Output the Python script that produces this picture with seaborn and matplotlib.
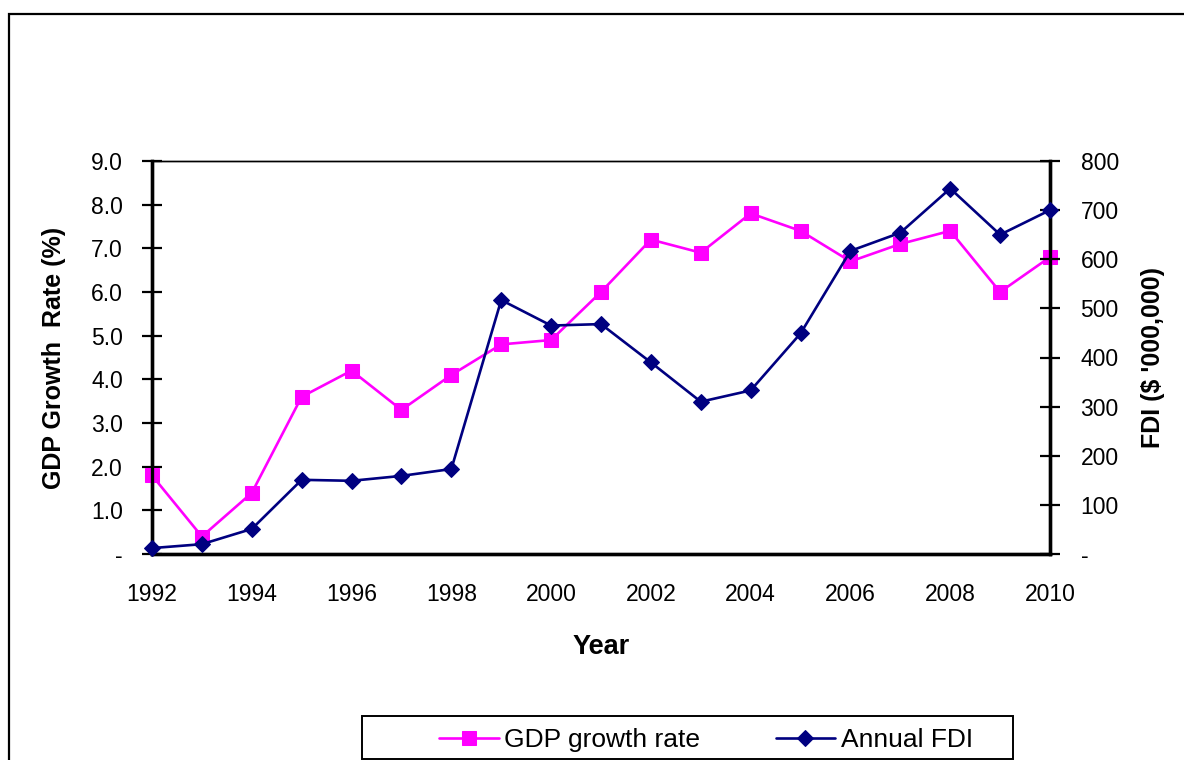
import matplotlib
matplotlib.use("Agg")
import matplotlib.pyplot as plt
from matplotlib.patches import Rectangle
from matplotlib.ticker import FixedLocator, FuncFormatter
import seaborn as sns

# Annual series
years = [1992, 1993, 1994, 1995, 1996, 1997, 1998, 1999, 2000, 2001,
         2002, 2003, 2004, 2005, 2006, 2007, 2008, 2009, 2010]
gdp_growth = [1.8, 0.4, 1.4, 3.6, 4.2, 3.3, 4.1, 4.8, 4.9, 6.0,
              7.2, 6.9, 7.8, 7.4, 6.7, 7.1, 7.4, 6.0, 6.8]
annual_fdi = [12, 20, 51, 151, 149, 159, 173, 517, 465, 468,
              390, 310, 333, 449, 617, 654, 744, 650, 700]

gdp_ticks = [0, 1, 2, 3, 4, 5, 6, 7, 8, 9]
fdi_ticks = [0, 100, 200, 300, 400, 500, 600, 700, 800]
year_labels = [1992, 1994, 1996, 1998, 2000, 2002, 2004, 2006, 2008, 2010]

sns.set_style("white")
plt.rcParams["font.family"] = ["Liberation Sans", "DejaVu Sans"]
plt.rcParams["text.color"] = "black"
plt.rcParams["axes.labelcolor"] = "black"
plt.rcParams["xtick.color"] = "black"
plt.rcParams["ytick.color"] = "black"

W, H = 1184, 760
fig = plt.figure(figsize=(W / 100, H / 100), dpi=100)
ax = fig.add_axes([152 / W, 1 - 554 / H, (1050 - 152) / W, (554 - 161) / H])
ax2 = ax.twinx()

pink = "#FF00FF"
navy = "#000080"

sns.lineplot(x=years, y=gdp_growth, ax=ax, color=pink, lw=1.9, marker="s",
             markersize=10.5, markeredgecolor=pink, clip_on=False, zorder=3)
sns.lineplot(x=years, y=annual_fdi, ax=ax2, color=navy, lw=1.9, marker="D",
             markersize=8, markeredgecolor=navy, clip_on=False, zorder=3)

ax.set_xlim(1992, 2010)
ax.set_ylim(0, 9)
ax2.set_ylim(0, 800)

ax.xaxis.set_major_locator(FixedLocator(years))
ax.xaxis.set_major_formatter(FuncFormatter(
    lambda v, p: str(int(round(v))) if int(round(v)) in year_labels else ""))
ax.set_yticks(gdp_ticks)
ax.yaxis.set_major_formatter(FuncFormatter(
    lambda v, p: "-" if abs(v) < 1e-9 else f"{v:.1f}"))
ax2.set_yticks(fdi_ticks)
ax2.yaxis.set_major_formatter(FuncFormatter(
    lambda v, p: "-" if abs(v) < 1e-9 else f"{int(v)}"))

for a in (ax, ax2):
    for side in ("left", "bottom", "right"):
        a.spines[side].set_linewidth(2.4)
        a.spines[side].set_color("black")
    a.spines["top"].set_linewidth(1.0)
    a.spines["top"].set_color("black")

ax.tick_params(axis="x", direction="inout", length=12, width=1.6,
               labelsize=16.5, pad=15)
ax.tick_params(axis="y", direction="inout", length=14, width=1.6,
               labelsize=16.5, pad=14)
ax2.tick_params(axis="y", direction="inout", length=14, width=1.6,
                labelsize=16.5, pad=15)

ax.set_xlabel("Year", fontsize=19.5, fontweight="bold", labelpad=20)
ax.set_ylabel("GDP Growth  Rate (%)", fontsize=18, fontweight="bold", labelpad=18)
ax2.set_ylabel("FDI ($ '000,000)", fontsize=18, fontweight="bold", labelpad=16,
               rotation=90)

# outer frame of the chart
fig.patches.append(Rectangle((9 / W, -0.1), 1.2, 1 - 14 / H + 0.1,
                             transform=fig.transFigure, fill=False,
                             edgecolor="black", lw=1.6))

# legend box along the bottom
fig.patches.append(Rectangle((362 / W, 1 - 759 / H), (1013 - 362) / W,
                             (759 - 716) / H, transform=fig.transFigure,
                             fill=False, edgecolor="black", lw=1.4))

handles = [ax.get_lines()[0], ax2.get_lines()[0]]
fig.legend(handles, ["GDP growth rate", "Annual FDI"], loc="center",
           bbox_to_anchor=(706 / W, 1 - 740 / H), ncol=2, frameon=False,
           fontsize=19, handlelength=2.27, handletextpad=0.2,
           columnspacing=2.85)

fig.savefig("out.png", dpi=100, facecolor="white")
